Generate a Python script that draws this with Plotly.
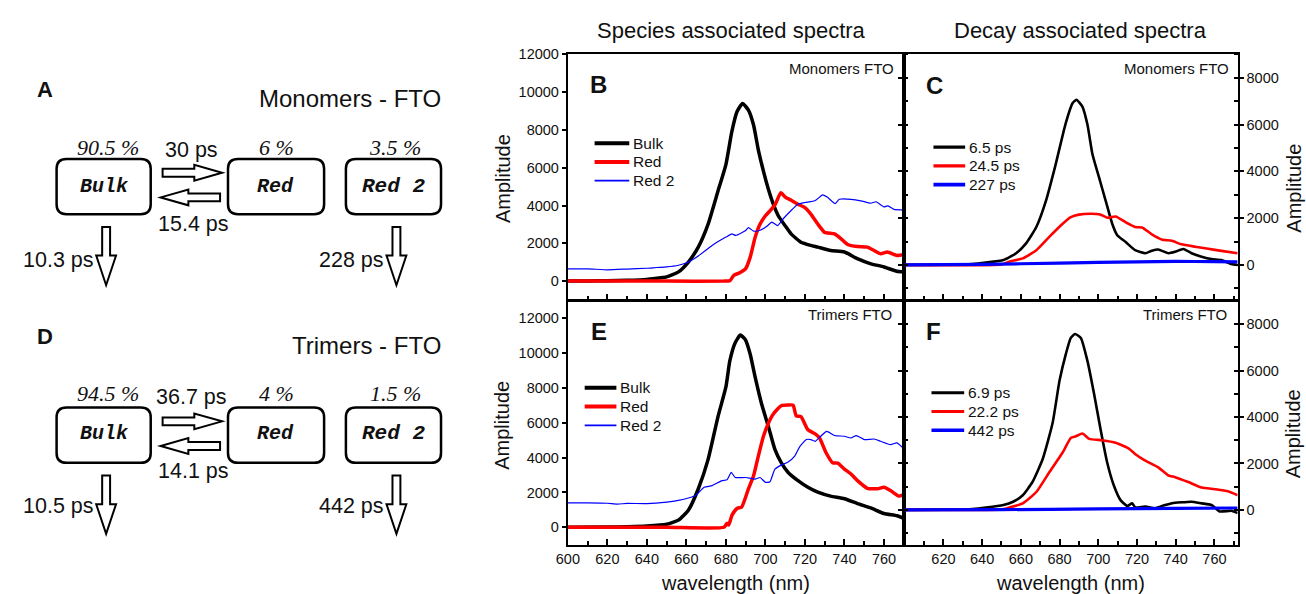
import plotly.graph_objects as go

W, H = 1306, 594


def px(x):
    return x / W


def py(y):
    return 1 - y / H


# ---------------- data: Species associated spectra, Monomers FTO (B) ----------------
B_bulk_wl = [600, 610, 620, 630, 640, 646, 650, 656, 661, 666, 671, 676, 680, 683, 685.6, 688.4,
             691.4, 694, 696.4, 699, 701.5, 704, 706.5, 710, 713, 718, 723, 726.5, 733, 740,
             746.5, 753, 760, 766.5, 770]
B_bulk_amp = [0, 10, 20, 40, 90, 170, 225, 490, 1010, 1800, 3020, 4770, 6170, 7910, 8960, 9400,
              9050, 8260, 6950, 5820, 4860, 4070, 3460, 2930, 2500, 2060, 1890, 1800, 1620, 1540,
              1190, 930, 750, 520, 490]
B_red_wl = [600, 650, 679, 682, 684, 687, 690, 692.3, 694.8, 697.3, 700, 702.3, 705, 707.8, 710,
            713, 716.5, 720, 723, 726.5, 730, 735, 738.3, 741.6, 746.6, 751.6, 755, 758.3, 761.7,
            766.6, 770]
B_red_amp = [0, 0, 0, 20, 310, 440, 660, 1270, 2320, 3020, 3460, 3720, 4070, 4680, 4450,
             4280, 4070, 3890, 3550, 3020, 2580, 2500, 2240, 1940, 1830, 1800, 1620, 1450, 1540,
             1360, 1410]
B_red2_wl = [600, 610, 620, 630, 640, 645, 650, 656, 661, 666, 673, 680, 683, 685, 690, 691.4,
             694, 697, 700.6, 703.2, 706.2, 709, 713, 716.5, 720, 725, 729, 731.6, 735.3, 737.4,
             743.3, 748.3, 753.3, 756, 760, 762, 765, 770]
B_red2_amp = [650, 650, 600, 640, 680, 720, 750, 840, 1010, 1330, 1890, 2330, 2500, 2420, 2680, 2830,
              2650, 2680, 2890, 3120, 2940, 3300, 3740, 4070, 4160, 4250, 4560, 4420, 4100, 4330,
              4330, 4250, 4120, 4200, 3930, 3980, 3800, 3770]

# ---------------- Decay associated spectra, Monomers FTO (C) ----------------
C_65_wl = [600, 620, 635, 642, 651, 657.6, 662.7, 668, 673, 678, 683, 686.7, 688.7, 691.8, 694.4,
           697, 700.4, 703.8, 707.2, 709.8, 714, 719, 724.3, 727.7, 731, 736.3, 739.7, 744, 748.2,
           753.4, 758.5, 763.6, 768.8, 772]
C_65_amp = [0, 10, 40, 100, 210, 500, 920, 1620, 2750, 4300, 6000, 6910, 7060, 6770, 6000,
            4730, 3740, 2750, 1760, 1270, 990, 630, 500, 610, 660, 500, 560, 680, 500,
            350, 250, 210, 40, 0]
C_245_wl = [600, 650, 654, 661, 668, 674.7, 681.6, 685.8, 690, 696, 701, 704.6, 709, 714, 719,
            722.6, 727.7, 732.8, 738, 743, 750, 756.8, 763.6, 772]
C_245_amp = [0, 20, 140, 280, 630, 1200, 1760, 2040, 2150, 2190, 2160, 2020, 2070, 1830, 1620,
             1600, 1310, 1090, 1030, 880, 780, 690, 600, 500]
C_227_wl = [600, 640, 680, 720, 740, 760, 772]
C_227_amp = [0, 20, 80, 130, 150, 140, 130]

# ---------------- Species associated spectra, Trimers FTO (E) ----------------
E_bulk_wl = [600, 620, 630, 640, 650, 656, 661, 666, 671, 676, 680, 682, 684.7, 687.3, 689.8,
             692.3, 694.8, 698, 701.5, 704.8, 708, 711.5, 716.5, 721.5, 726.5, 733, 740, 746.6,
             753.3, 760, 766.6, 770]
E_bulk_amp = [0, 10, 30, 70, 170, 410, 980, 2200, 3900, 6360, 8060, 9570, 10600, 11040, 10790,
              9940, 8620, 7110, 5790, 4470, 3710, 3150, 2680, 2300, 2020, 1790, 1640, 1360,
              1110, 790, 660, 510]
E_red_wl = [600, 650, 679, 680.6, 681.4, 683.1, 685.6, 688, 691.4, 694, 696.4, 699, 701.5, 704,
            708, 711.5, 714, 715.6, 718, 721.5, 725, 727.4, 730.7, 734, 736.6, 740, 743.3, 746.6,
            751.6, 756.7, 760, 763.3, 767.5, 770]
E_red_amp = [0, 0, 0, 230, 130, 700, 1080, 1170, 2210, 2960, 4090, 5230, 5980, 6510,
             6980, 7020, 7020, 6400, 6360, 5600, 5380, 5130, 4280, 3710, 3680, 3340, 3060, 2680,
             2240, 2210, 2300, 2110, 1790, 1880]
E_red2_wl = [600, 610, 620, 625, 630, 640, 650, 656, 661, 664.7, 669, 673, 678, 680.6, 682.7,
             684.7, 690, 695, 697.3, 700, 702.3, 704.8, 708, 711.5, 714.8, 717.3, 720.7, 723,
             725.2, 728, 731, 735, 740, 743.3, 746, 750, 755, 758.3, 763.3, 766.6, 770]
E_red2_amp = [1400, 1400, 1380, 1330, 1370, 1360, 1450, 1550, 1680, 1830, 2300, 2390, 2680, 2730, 3150,
              2860, 2860, 2770, 2860, 2580, 2620, 3340, 3570, 3750, 4090, 4620, 5040, 5040,
              4940, 5230, 5510, 5270, 5230, 5130, 5270, 5040, 5070, 4940, 4750, 4850, 4510]

# ---------------- Decay associated spectra, Trimers FTO (F) ----------------
F_69_wl = [600, 620, 635, 642, 651, 656, 661, 666, 671.3, 676.4, 680, 683.2, 685.8, 688, 691,
           694.4, 697.8, 701.2, 704.6, 708, 711.5, 715, 717.5, 719.2, 724.3, 729.4, 734.6, 739.7,
           744.8, 748.2, 753.4, 758.5, 762.8, 768.8, 772]
F_69_amp = [0, 10, 40, 100, 210, 350, 630, 1200, 2190, 3740, 5570, 6700, 7410, 7580, 7410,
            6420, 5010, 3460, 2040, 1060, 420, 170, 280, 100, 140, 70, 210, 310,
            330, 350, 280, 210, -70, -40, -140]
F_222_wl = [600, 650, 654, 661, 668, 674.7, 681.6, 685.8, 688.4, 691.8, 695.3, 702, 709, 715.8,
            719.2, 724.3, 731, 736.3, 739.7, 746.5, 753.4, 760.2, 767, 772]
F_222_amp = [0, 20, 100, 280, 770, 1620, 2470, 3100, 3170, 3290, 3060, 3000, 2890, 2640,
             2400, 2120, 1830, 1480, 1410, 1200, 960, 890, 800, 630]
F_442_wl = [600, 650, 700, 740, 772]
F_442_amp = [0, 10, 40, 60, 80]

# tick labels
y_ticks_species = [0, 2000, 4000, 6000, 8000, 10000, 12000]
y_ticks_decay = [0, 2000, 4000, 6000, 8000]
x_ticks_E = [600, 620, 640, 660, 680, 700, 720, 740, 760]
x_ticks_F = [620, 640, 660, 680, 700, 720, 740, 760]
x_minor = [610, 630, 650, 670, 690, 710, 730, 750, 770]

FONT = "Liberation Sans, Arial, sans-serif"
BLACK = "#000000"
RED = "#ff0000"
BLUE = "#0000ff"

fig = go.Figure()
legend_items = {"B": [], "C": [], "E": [], "F": []}


def add(wl, amp, color, width, name, xa, ya, panel):
    fig.add_trace(go.Scatter(x=wl, y=amp, mode="lines", name=name, showlegend=False,
                             line=dict(color=color, width=width, shape="spline", smoothing=0.5),
                             xaxis=xa, yaxis=ya, hoverinfo="skip"))
    legend_items[panel].append((name, color, width))


add(B_bulk_wl, B_bulk_amp, BLACK, 3.5, "Bulk", "x", "y", "B")
add(B_red_wl, B_red_amp, RED, 3.5, "Red", "x", "y", "B")
add(B_red2_wl, B_red2_amp, BLUE, 1.2, "Red 2", "x", "y", "B")

add(C_65_wl, C_65_amp, BLACK, 2.6, "6.5 ps", "x2", "y2", "C")
add(C_245_wl, C_245_amp, RED, 2.6, "24.5 ps", "x2", "y2", "C")
add(C_227_wl, C_227_amp, BLUE, 3.2, "227 ps", "x2", "y2", "C")

add(E_bulk_wl, E_bulk_amp, BLACK, 3.5, "Bulk", "x3", "y3", "E")
add(E_red_wl, E_red_amp, RED, 3.5, "Red", "x3", "y3", "E")
add(E_red2_wl, E_red2_amp, BLUE, 1.2, "Red 2", "x3", "y3", "E")

add(F_69_wl, F_69_amp, BLACK, 2.6, "6.9 ps", "x4", "y4", "F")
add(F_222_wl, F_222_amp, RED, 2.6, "22.2 ps", "x4", "y4", "F")
add(F_442_wl, F_442_amp, BLUE, 3.2, "442 ps", "x4", "y4", "F")

xB = [px(561), px(900)]
xC = [px(900), px(1237)]
yT = [py(296), py(47)]
yBt = [py(544), py(297)]

tickfont = dict(family=FONT, size=14.5, color="#111")
common = dict(showline=True, linewidth=2, linecolor=BLACK, mirror=True,
              showgrid=False, zeroline=False, tickfont=tickfont, tickcolor=BLACK)


def xax(domain, anchor, rng, vals, labels):
    d = dict(common)
    d.update(domain=domain, anchor=anchor, range=rng, tickmode="array", tickvals=vals,
             showticklabels=labels, ticks="inside", ticklen=6, tickwidth=1.5,
             minor=dict(tickmode="array", tickvals=x_minor,
                        ticks="inside", ticklen=4, tickwidth=1.5, tickcolor=BLACK))
    return d


def yax(domain, anchor, rng, vals, side, minor=False):
    d = dict(common)
    d.update(domain=domain, anchor=anchor, range=rng, tickmode="array", tickvals=vals,
             ticktext=[str(v) for v in vals], side=side, ticks="outside", ticklen=4, tickwidth=1.5)
    if minor:
        d.update(mirror="allticks",
                 minor=dict(dtick=1000, ticks="inside", ticklen=4, tickwidth=1.5, tickcolor=BLACK))
    return d


fig.update_layout(
    width=W, height=H, margin=dict(l=0, r=0, t=0, b=0),
    paper_bgcolor="white", plot_bgcolor="white", showlegend=False,
    font=dict(family=FONT, color="#111"),
    xaxis=xax(xB, "y", [600, 770], x_ticks_E, False),
    yaxis=yax(yT, "x", [-1000, 12000.5], y_ticks_species, "left"),
    xaxis2=xax(xC, "y2", [599.5, 772], x_ticks_F, False),
    yaxis2=yax(yT, "x2", [-1500, 9000], y_ticks_decay, "right", minor=True),
    xaxis3=xax(xB, "y3", [600, 770], x_ticks_E, True),
    yaxis3=yax(yBt, "x3", [-1000, 13000], y_ticks_species, "left"),
    xaxis4=xax(xC, "y4", [599.5, 772], x_ticks_F, True),
    yaxis4=yax(yBt, "x4", [-1500, 9000], y_ticks_decay, "right", minor=True),
)

ann = []
shapes = []


def text(x, y, s, size, xanchor="center", family=FONT, weight="normal", style="normal", angle=0):
    ann.append(dict(x=px(x), y=py(y), xref="paper", yref="paper", text=s, showarrow=False,
                    xanchor=xanchor, yanchor="middle", textangle=angle, borderpad=0,
                    font=dict(family=family, size=size, color="#111", weight=weight, style=style)))


# legends drawn per panel (line sample + label)
legend_pos = {"B": (588, 623, 137), "C": (930, 962, 141), "E": (578, 610, 385), "F": (928, 961, 390)}
for panel, items in legend_items.items():
    x0, x1, y0 = legend_pos[panel]
    for i, (name, color, width) in enumerate(items):
        yy = y0 + 19 * i
        shapes.append(dict(type="line", xref="paper", yref="paper", x0=px(x0), x1=px(x1),
                           y0=py(yy), y1=py(yy), line=dict(color=color, width=width + 0.5)))
        text(x1 + 3, yy, name, 15.5, xanchor="left")

# headers and axis titles
text(726, 23, "Species associated spectra", 22)
text(1078, 23, "Decay associated spectra", 22)
text(730, 583, "wavelength (nm)", 20)
text(1068, 583, "wavelength (nm)", 20)
text(495, 173, "Amplitude", 20, angle=-90)
text(495, 423, "Amplitude", 20, angle=-90)
text(1293, 183, "Amplitude", 20, angle=-90)
text(1293, 432, "Amplitude", 20, angle=-90)

# panel letters and in-plot labels
text(582, 78, "B", 24, xanchor="left", weight="bold")
text(921, 79, "C", 24, xanchor="left", weight="bold")
text(583, 328, "E", 24, xanchor="left", weight="bold")
text(921, 328, "F", 24, xanchor="left", weight="bold")
text(891, 61, "Monomers FTO", 15, xanchor="right")
text(1229, 61, "Monomers FTO", 15, xanchor="right")
text(889, 311, "Trimers FTO", 15, xanchor="right")
text(1227, 311, "Trimers FTO", 15, xanchor="right")

# schematic text
MONO = "Liberation Mono, Courier New, monospace"
SERIF = "Liberation Serif, Times New Roman, serif"
for (top, letter, title, pcts, fwd, back, dec1, dec2) in [
    (0, "A", "Monomers - FTO", ["90.5 %", "6 %", "3.5 %"], "30 ps", "15.4 ps", "10.3 ps", "228 ps"),
    (250, "D", "Trimers - FTO", ["94.5 %", "4 %", "1.5 %"], "36.7 ps", "14.1 ps", "10.5 ps", "442 ps"),
]:
    text(24, 83 + top, letter, 22, xanchor="left", weight="bold")
    text(434, 92 + top, title, 24, xanchor="right")
    text(97, 141 + top, pcts[0], 22, family=SERIF, style="italic")
    text(267, 141 + top, pcts[1], 22, family=SERIF, style="italic")
    text(387, 141 + top, pcts[2], 22, family=SERIF, style="italic")
    text(181, 144 + top, fwd, 21.5)
    text(183, 219 + top, back, 21.5)
    text(47, 255 + top, dec1, 21.5)
    text(343, 255 + top, dec2, 21.5)
    text(93, 181 + top, "Bulk", 20, family=MONO, weight="bold", style="italic")
    text(266, 181 + top, "Red", 20, family=MONO, weight="bold", style="italic")
    text(385, 181 + top, "Red 2", 21, family=MONO, weight="bold", style="italic")

fig.update_layout(annotations=ann)


# schematic shapes
def path_from(points):
    return "M" + " L".join(f"{px(x):.5f},{py(y):.5f}" for x, y in points) + " Z"


def rrect(x0, y0, x1, y1, r=10):
    P = lambda x, y: f"{px(x):.5f},{py(y):.5f}"
    return (f"M{P(x0 + r, y0)} L{P(x1 - r, y0)} Q{P(x1, y0)} {P(x1, y0 + r)} "
            f"L{P(x1, y1 - r)} Q{P(x1, y1)} {P(x1 - r, y1)} L{P(x0 + r, y1)} "
            f"Q{P(x0, y1)} {P(x0, y1 - r)} L{P(x0, y0 + r)} Q{P(x0, y0)} {P(x0 + r, y0)} Z")


def harrow(xa, xb, yc, h=4, Hh=8, L=28):
    sgn = 1 if xb > xa else -1
    xh = xb - sgn * L
    return path_from([(xa, yc - h), (xh, yc - h), (xh, yc - Hh), (xb, yc), (xh, yc + Hh),
                      (xh, yc + h), (xa, yc + h)])


def varrow(xc, ya, yb, w=4, Ww=10, L=30):
    yh = yb - L
    return path_from([(xc - w, ya), (xc - w, yh), (xc - Ww, yh), (xc, yb), (xc + Ww, yh),
                      (xc + w, yh), (xc + w, ya)])


for top in (0, 252):
    for (x0, x1) in [(45, 140), (218, 315), (337, 433)]:
        shapes.append(dict(type="path", xref="paper", yref="paper", path=rrect(x0, 153 + top, x1, 209 + top),
                           line=dict(color=BLACK, width=2.5), fillcolor="rgba(0,0,0,0)"))
    shapes.append(dict(type="path", xref="paper", yref="paper", path=harrow(152, 212, 167 + top),
                       line=dict(color=BLACK, width=2), fillcolor="white"))
    shapes.append(dict(type="path", xref="paper", yref="paper", path=harrow(210, 150, 192 + top),
                       line=dict(color=BLACK, width=2), fillcolor="white"))
    shapes.append(dict(type="path", xref="paper", yref="paper", path=varrow(95, 222 + top, 281 + top),
                       line=dict(color=BLACK, width=2), fillcolor="white"))
    shapes.append(dict(type="path", xref="paper", yref="paper", path=varrow(388, 222 + top, 281 + top),
                       line=dict(color=BLACK, width=2), fillcolor="white"))

fig.update_layout(shapes=shapes)

fig.write_html("out.html", config={"displayModeBar": False},
               post_script="document.body.style.margin='0px';")
